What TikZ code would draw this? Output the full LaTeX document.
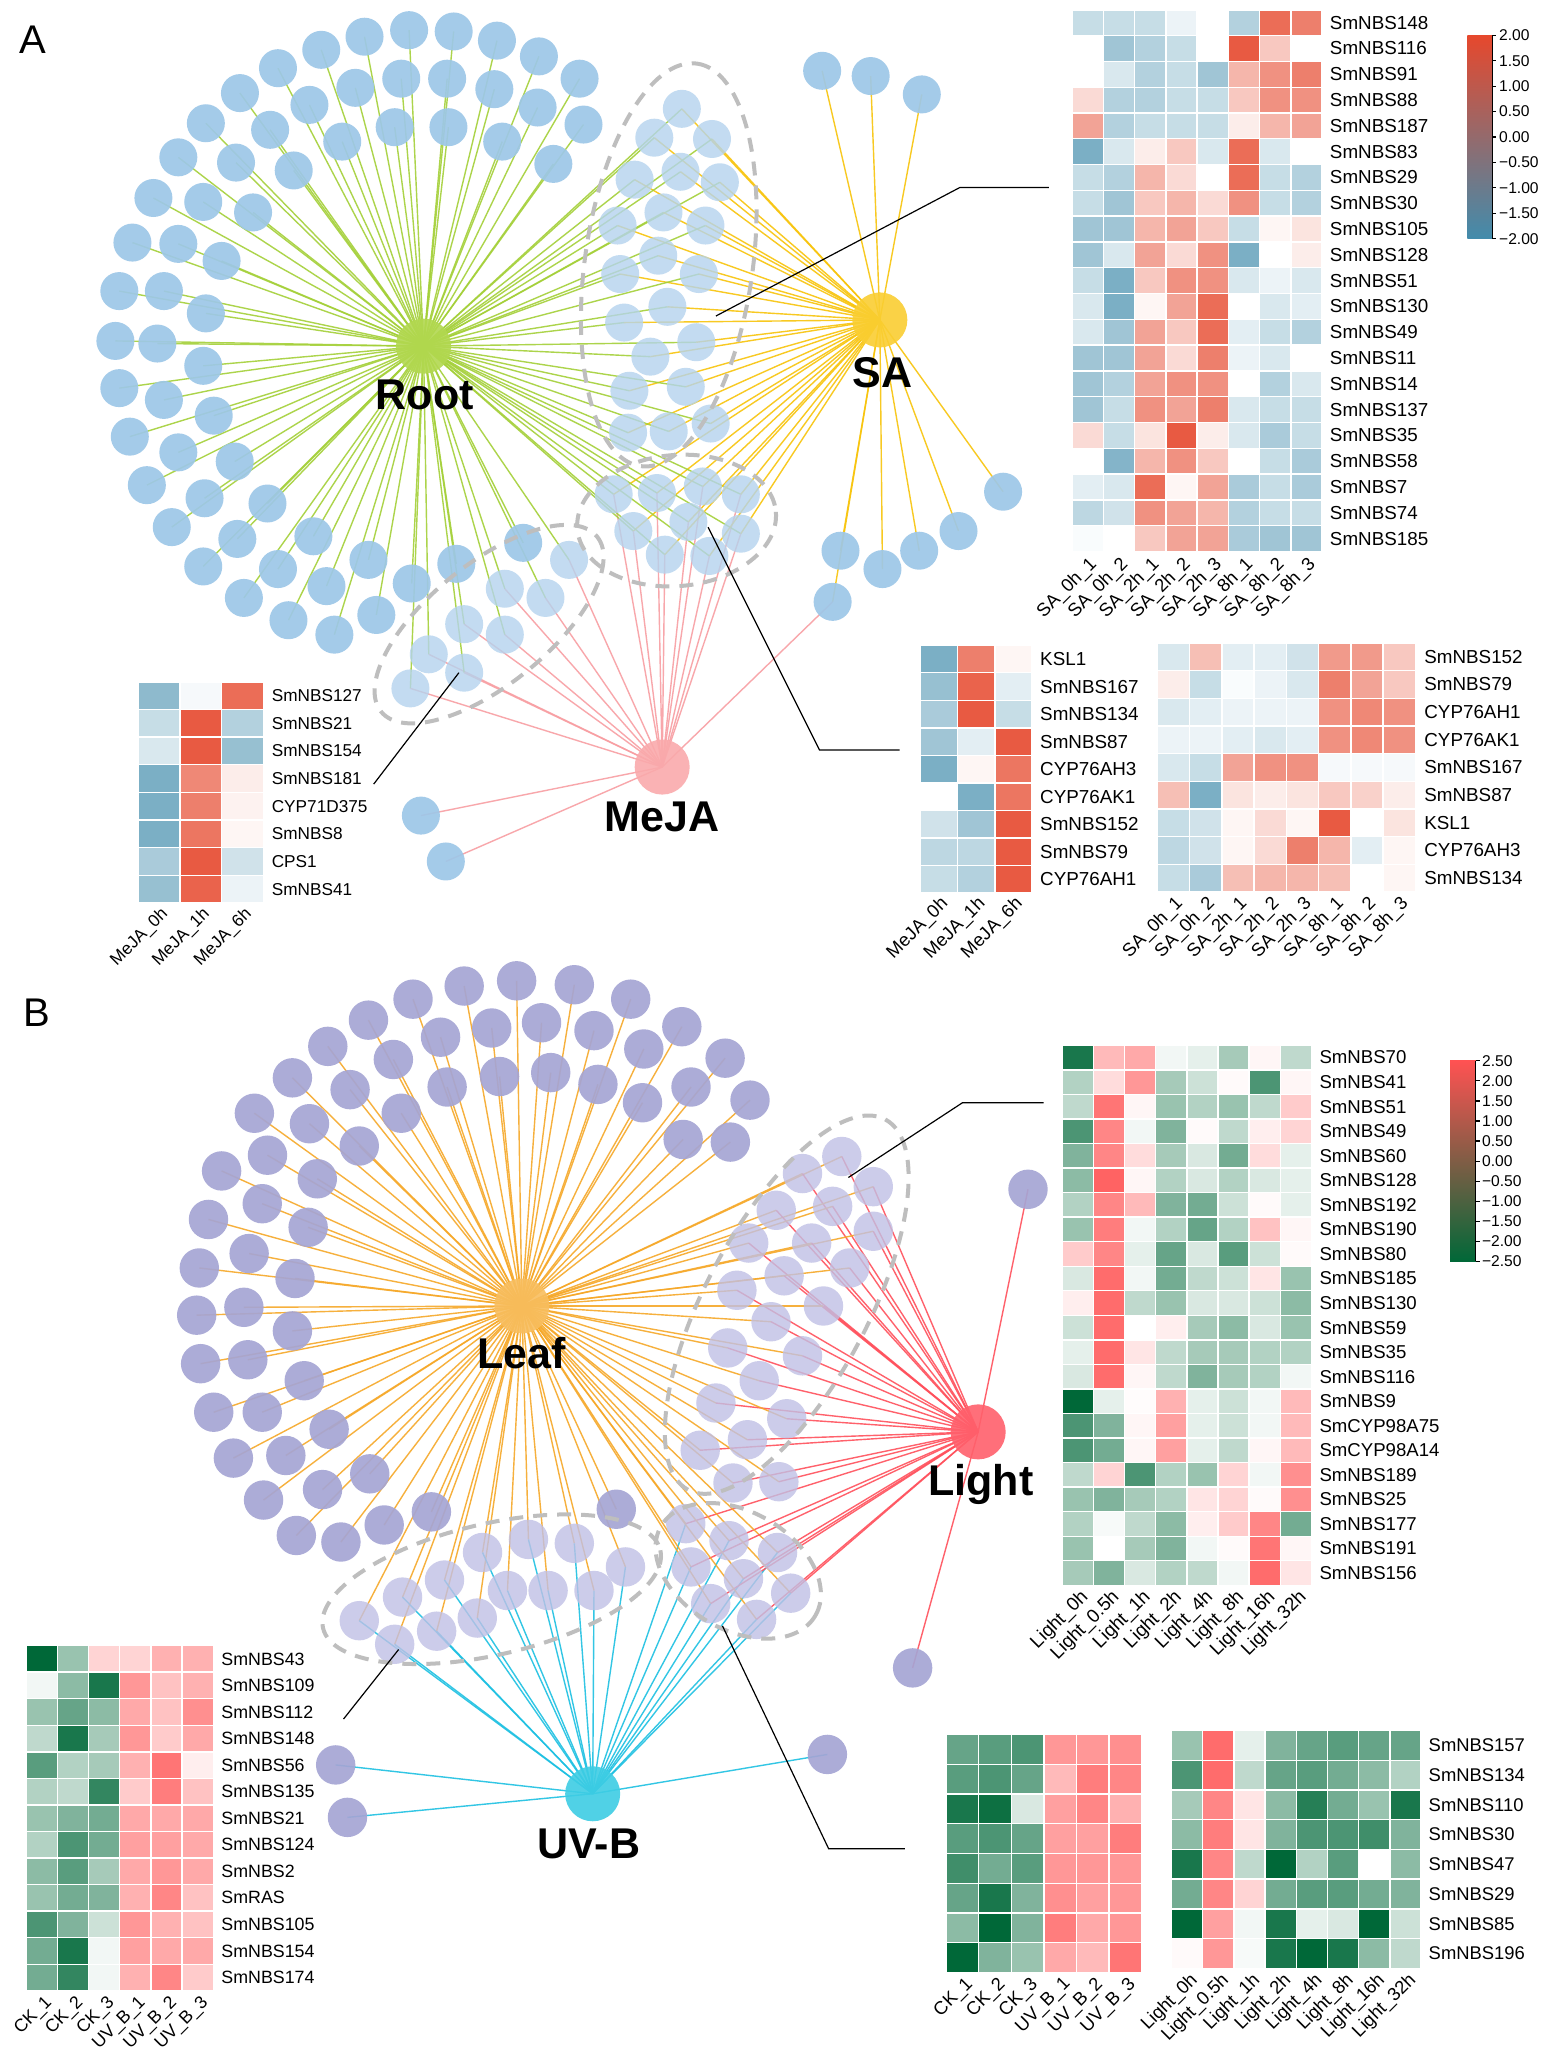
\documentclass[tikz,border=0pt]{standalone}
\usepackage{fontspec}
\setmainfont{Liberation Sans}
\pgfdeclarelayer{background}
\pgfsetlayers{background,main}
\definecolor{blueA}{RGB}{157,199,232}
\definecolor{blueAl}{RGB}{180,211,238}
\definecolor{purB}{RGB}{165,165,212}
\definecolor{purBl}{RGB}{192,192,229}
\definecolor{rootC}{RGB}{178,216,80}
\definecolor{rootE}{RGB}{164,208,56}
\definecolor{saC}{RGB}{250,206,50}
\definecolor{saE}{RGB}{248,196,10}
\definecolor{mejaC}{RGB}{250,170,172}
\definecolor{mejaE}{RGB}{248,158,162}
\definecolor{leafC}{RGB}{248,190,95}
\definecolor{leafE}{RGB}{246,168,40}
\definecolor{lightC}{RGB}{255,96,108}
\definecolor{lightE}{RGB}{255,80,92}
\definecolor{uvbC}{RGB}{62,205,228}
\definecolor{uvbE}{RGB}{28,192,226}
\definecolor{lowA}{RGB}{66,140,172}
\definecolor{highA}{RGB}{230,72,45}
\definecolor{lowB}{RGB}{0,104,56}
\definecolor{highB}{RGB}{255,82,82}
\definecolor{grpC}{RGB}{190,190,190}
% heat map: x0, y0, cell w, cell h, low, high, rows
\newcommand{\hmap}[7]{%
\foreach \rw [count=\i] in {#7}{
  \foreach \v [count=\j] in \rw{
    \pgfmathsetmacro\pct{min(100,abs(\v)*10)}
    \ifdim\v pt<0pt \def\hc{#5}\else\def\hc{#6}\fi
    \fill[fill=\hc!\pct!white,draw=white,line width=0.7pt]
      ({#1+(\j-1)*#3},{#2+(\i-1)*#4}) rectangle ++(#3,#4);
  }
}}
\begin{document}
\begin{tikzpicture}[x=0.6554pt,y=-0.6554pt,
  nodeA/.style={circle,inner sep=0pt,minimum size=19pt,fill=blueA,fill opacity=0.92},
  nodeAl/.style={nodeA,fill=blueAl,fill opacity=0.8},
  nodeB/.style={circle,inner sep=0pt,minimum size=19.7pt,fill=purB,fill opacity=0.92},
  nodeBl/.style={nodeB,fill=purBl,fill opacity=0.8},
  hub/.style={circle,inner sep=0pt,minimum size=27.5pt,fill opacity=0.9},
  hublab/.style={inner sep=0pt,font=\fontsize{21.5}{24}\selectfont\bfseries},
  wire/.style={line width=0.7pt,draw opacity=0.9},
  grp/.style={draw=grpC,line width=2pt,dash pattern=on 7pt off 5pt},
  lead/.style={line width=0.6pt},
  rowlab/.style={inner sep=0pt,anchor=west,font=\fontsize{#1}{#1}\selectfont},
  collab/.style={inner sep=0pt,anchor=east,rotate=45,font=\fontsize{#1}{#1}\selectfont},
  cbar/.style={inner sep=0pt,anchor=west,font=\fontsize{7.8}{8}\selectfont}]
\begin{pgfonlayer}{background}
\fill[white] (0,0) rectangle (1184,1568);
\end{pgfonlayer}
\useasboundingbox (0,0) rectangle (1184,1568);

\node[font=\fontsize{20}{20}\selectfont] (pA) at (25,30) {A};
\node[font=\fontsize{20}{20}\selectfont] (pB) at (28,772) {B};

%%%%% panel A network
\node[hub,fill=rootC] (root) at (323,264) {};
\node[hub,fill=saC] (sa) at (671,244) {};
\node[hub,fill=mejaC] (meja) at (505,585) {};

% root ring
\foreach \p [count=\k] in {(278,28),(312,23),(346,24),(379,31),(411,43),(442,60),(245,38),(212,52),(183,71),(157,94),(136,120),(117,151),(101,185),(91,222),(88,260),(91,296),(99,333),(112,370),(131,402),(155,432),(186,456),(220,473),(255,484),
  (306,60),(341,60),(377,68),(410,82),(445,95),(271,67),(236,80),(206,99),(180,124),(155,154),(136,186),(125,222),(120,262),(125,305),(136,345),(156,380),(181,411),(212,434),(249,447),(287,469),
  (301,97),(342,97),(383,108),(422,125),(261,108),(224,130),(193,162),(169,199),(157,239),(155,279),(163,317),(179,352),(204,384),(239,409),(281,427),(314,445),(348,430),(399,414)}
  \node[nodeA] (ra\k) at \p {};
% SA group
\foreach \p [count=\k] in {(520,83),(499,105),(543,106),(484,137),(519,131),(549,139),(471,172),(506,162),(538,172),(502,195),(473,209),(533,209),(509,234),(476,246),(531,261),(496,272),(480,298),(523,295),(479,330),(510,329),(542,323)}
  \node[nodeAl] (sg\k) at \p {};
% SA and MeJA group
\foreach \p [count=\k] in {(468,377),(501,376),(536,371),(565,377),(483,405),(525,398),(565,407),(507,423),(541,424)}
  \node[nodeAl] (dg\k) at \p {};
% MeJA group
\foreach \p [count=\k] in {(434,427),(416,456),(385,449),(354,476),(385,484),(327,499),(354,513),(313,525)}
  \node[nodeAl] (mg\k) at \p {};
\foreach \p [count=\k] in {(627,54),(664,58),(703,72),(765,375),(731,405),(701,420),(673,434),(641,420),(635,459)}
  \node[nodeA] (so\k) at \p {};
\foreach \p [count=\k] in {(321,622),(340,657)}
  \node[nodeA] (mo\k) at \p {};

\begin{pgfonlayer}{background}
\foreach \k in {1,...,61} \draw[wire,rootE] (root.center) -- (ra\k.center);
\foreach \k in {1,...,21}{
  \draw[wire,rootE] (root.center) -- (sg\k.center);
  \draw[wire,saE] (sa.center) -- (sg\k.center);}
\foreach \k in {1,...,9}{
  \draw[wire,rootE] (root.center) -- (dg\k.center);
  \draw[wire,saE] (sa.center) -- (dg\k.center);
  \draw[wire,mejaE] (meja.center) -- (dg\k.center);
  \draw[wire,saE] (sa.center) -- (so\k.center);}
\foreach \k in {1,...,8}{
  \draw[wire,rootE] (root.center) -- (mg\k.center);
  \draw[wire,mejaE] (meja.center) -- (mg\k.center);}
\foreach \k in {1,2} \draw[wire,mejaE] (meja.center) -- (mo\k.center);
\draw[wire,mejaE] (meja.center) -- (so9.center);
\end{pgfonlayer}

\draw[grp,rotate around={82:(510,202)}] (510,202) ellipse [x radius=155,y radius=64];
\draw[grp,rotate around={5:(516,397)}] (516,397) ellipse [x radius=76,y radius=50];
\draw[grp,rotate around={39:(373,476)}] (373,476) ellipse [x radius=106,y radius=46];

\node[hublab] (rootlab) at (324,301) {Root};
\node[hublab] (salab) at (673,284) {SA};
\node[hublab] (mejalab) at (505,623) {MeJA};

% leader lines A
\coordinate (la1) at (546,241); \coordinate (la2) at (732,143); \coordinate (la3) at (800,143);
\draw[lead] (la1) -- (la2) -- (la3);
\coordinate (lb1) at (540,402); \coordinate (lb2) at (625,572); \coordinate (lb3) at (686,572);
\draw[lead] (lb1) -- (lb2) -- (lb3);
\coordinate (lc1) at (350,513); \coordinate (lc2) at (285,598);
\draw[lead] (lc1) -- (lc2);

%%%%% panel A heat maps
\hmap{817.6}{7.5}{23.84}{19.67}{lowA}{highA}{{-3,-3,-3,-1,0,-4,8,7},{0,-5,-4,-3,0,9,3,0},{0,-2,-4,-3,-5,4,6,7},{2,-4,-4,-3,-3,3,6,6},{5,-4,-3,-3,-3,1,4,5},{-7,-2,1,3,-2,8,-2,0},{-3,-4,4,2,0,8,-3,-4},{-3,-5,3,4,2,6,-3,-4},{-5,-5,4,5,3,-3,0.5,1.5},{-5,-2,5,2,6,-7,0,1},{-3,-7,3,6,6,-2,-1,-2},{-2,-7,0.5,5,8,0,-2,-1.5},{-2,-5,5,3,8,-1.5,-3,-4},{-5,-5,5,2,7,-1,-2,0},{-5,-4,5,6,6,0,-4,-2},{-5,-3,6,5,7,-2,-3,-3},{2,-3,1.5,9,1,-2,-4.5,-3},{0,-6.5,4,6,3,0,-3,-4.5},{-1.5,-2,8,0.5,5,-4.5,-3,-4.5},{-3.5,-2.5,6,5,4,-4,-3,-3},{-0.3,0,3,5,5,-4.5,-5,-5}}
\foreach \n [count=\i] in {SmNBS148,SmNBS116,SmNBS91,SmNBS88,SmNBS187,SmNBS83,SmNBS29,SmNBS30,SmNBS105,SmNBS128,SmNBS51,SmNBS130,SmNBS49,SmNBS11,SmNBS14,SmNBS137,SmNBS35,SmNBS58,SmNBS7,SmNBS74,SmNBS185}
  \node[rowlab=9.4] (saR\i) at (1014,{7.5+(\i-0.5)*19.67}) {\n};
\foreach \n [count=\j] in {SA\_0h\_1,SA\_0h\_2,SA\_2h\_1,SA\_2h\_2,SA\_2h\_3,SA\_8h\_1,SA\_8h\_2,SA\_8h\_3}
  \node[collab=9.2] (saC\j) at ({817.6+(\j-0.5)*23.84+5},428) {\n};
% colour bar A
\shade[top color=highA,middle color=white,bottom color=lowA] (1119,27) rectangle (1138,182);
\draw[line width=0.6pt] (1138,27) -- (1138,182);
\foreach \t [count=\k from 0] in {2.00,1.50,1.00,0.50,0.00,−0.50,−1.00,−1.50,−2.00}{
  \draw[line width=0.6pt] (1138,{27+\k*19.375}) -- ++(3,0);
  \node[cbar] (cbA\k) at (1143,{27+\k*19.375}) {\t};
}

\hmap{105.2}{520}{31.93}{21.08}{lowA}{highA}{{-6,-0.5,8},{-3,9,-4},{-2,9,-5.5},{-7,6.5,1},{-7,7,0.7},{-7,7.5,0.5},{-4.5,9,-2.5},{-5.5,8.5,-1}}
\foreach \n [count=\i] in {SmNBS127,SmNBS21,SmNBS154,SmNBS181,CYP71D375,SmNBS8,CPS1,SmNBS41}
  \node[rowlab=8.6] (mjR\i) at (207,{520+(\i-0.5)*21.08}) {\n};
\foreach \n [count=\j] in {MeJA\_0h,MeJA\_1h,MeJA\_6h}
  \node[collab=8.6] (mjC\j) at ({105.2+(\j-0.5)*31.93+5},695) {\n};

\hmap{701.9}{492.1}{28.4}{20.99}{lowA}{highA}{{-7,7,0.5},{-5.5,8.5,-1.5},{-4.5,9,-3},{-5,-1.5,9},{-7,0.5,7.5},{0,-7,7.5},{-2.5,-5,9},{-3.5,-3.5,9},{-3,-4,9}}
\foreach \n [count=\i] in {KSL1,SmNBS167,SmNBS134,SmNBS87,CYP76AH3,CYP76AK1,SmNBS152,SmNBS79,CYP76AH1}
  \node[rowlab=9.4] (mmR\i) at (793,{492.1+(\i-0.5)*20.99}) {\n};
\foreach \n [count=\j] in {MeJA\_0h,MeJA\_1h,MeJA\_6h}
  \node[collab=9.2] (mmC\j) at ({701.9+(\j-0.5)*28.4+5},687) {\n};

\hmap{882.7}{490.3}{24.59}{21.11}{lowA}{highA}{{-2,3.5,-1.5,-1.5,-2.5,5.5,5.5,3},{1,-3,-0.3,-1,-2,7,5,3},{-2,-1.5,-1,-1,-1,6,6.5,6},{-1,-1,-1.5,-2,-1.5,6,6.5,6},{-2,-3,5,6,6,-0.5,-0.5,-0.5},{3.5,-7,1.5,1,1.5,3,2.5,1},{-3,-2.5,0.5,2,0.5,9,0,1.5},{-3.5,-2.5,0.5,2,7,4,-1.5,0.5},{-3,-4.5,3.5,4,4,3.5,0,0.5}}
\foreach \n [count=\i] in {SmNBS152,SmNBS79,CYP76AH1,CYP76AK1,SmNBS167,SmNBS87,KSL1,CYP76AH3,SmNBS134}
  \node[rowlab=9.4] (smR\i) at (1086,{490.3+(\i-0.5)*21.11}) {\n};
\foreach \n [count=\j] in {SA\_0h\_1,SA\_0h\_2,SA\_2h\_1,SA\_2h\_2,SA\_2h\_3,SA\_8h\_1,SA\_8h\_2,SA\_8h\_3}
  \node[collab=9.2] (smC\j) at ({882.7+(\j-0.5)*24.59+5},687) {\n};

%%%%% panel B network
\node[hub,fill=leafC] (leaf) at (398,996) {};
\node[hub,fill=lightC] (light) at (746,1092) {};
\node[hub,fill=uvbC] (uvb) at (452,1368) {};

% leaf ring
\foreach \p [count=\k] in {(394,748),(438,751),(481,762),(520,783),(553,807),(572,839),(354,752),(315,762),(281,778),(250,798),(223,822),(194,849),(169,893),(159,930),(152,967),(150,1003),(153,1040),(163,1077),(178,1112),(201,1144),(226,1171),(260,1176),(293,1163),(329,1153),
  (413,780),(375,784),(336,791),(300,808),(267,831),(236,857),(204,881),(200,918),(190,956),(186,997),(189,1037),(200,1077),(218,1110),(246,1136),(453,786),(491,800),(527,829),(557,871),
  (381,821),(420,818),(456,827),(490,841),(521,869),(341,829),(306,849),(274,874),(242,899),(235,936),(225,975),(223,1015),(232,1053),(251,1090),(282,1124),(470,1151)}
  \node[nodeB] (lr\k) at \p {};
% Light group
\foreach \p [count=\k] in {(642,882),(612,895),(666,905),(592,923),(635,920),(666,939),(571,948),(619,948),(648,967),(598,973),(562,984),(628,996),(588,1008),(555,1028),(612,1034),(579,1053),(546,1070),(600,1082),(570,1098),(534,1106),(559,1131),(594,1130)}
  \node[nodeBl] (lgt\k) at \p {};
% Light and UV-B group
\foreach \p [count=\k] in {(523,1162),(556,1175),(593,1184),(527,1195),(567,1204),(603,1215),(542,1223),(577,1235)}
  \node[nodeBl] (brg\k) at \p {};
% UV-B group
\foreach \p [count=\k] in {(274,1236),(301,1254),(307,1218),(333,1244),(339,1205),(364,1234),(368,1184),(387,1213),(403,1174),(418,1213),(438,1177),(453,1213),(477,1195)}
  \node[nodeBl] (blg\k) at \p {};
\foreach \p [count=\k] in {(256,1346),(265,1386),(631,1338)}
  \node[nodeB] (uo\k) at \p {};
\foreach \p [count=\k] in {(784,907),(696,1272)}
  \node[nodeB] (lo\k) at \p {};

\begin{pgfonlayer}{background}
\foreach \k in {1,...,58} \draw[wire,leafE] (leaf.center) -- (lr\k.center);
\foreach \k in {1,...,22}{
  \draw[wire,leafE] (leaf.center) -- (lgt\k.center);
  \draw[wire,lightE] (light.center) -- (lgt\k.center);}
\foreach \k in {1,...,8}{
  \draw[wire,leafE] (leaf.center) -- (brg\k.center);
  \draw[wire,lightE] (light.center) -- (brg\k.center);
  \draw[wire,uvbE] (uvb.center) -- (brg\k.center);}
\foreach \k in {1,...,13}{
  \draw[wire,leafE] (leaf.center) -- (blg\k.center);
  \draw[wire,uvbE] (uvb.center) -- (blg\k.center);}
\foreach \k in {1,2,3} \draw[wire,uvbE] (uvb.center) -- (uo\k.center);
\foreach \k in {1,2} \draw[wire,lightE] (light.center) -- (lo\k.center);
\end{pgfonlayer}

\draw[grp,rotate around={62:(600,995)}] (600,995) ellipse [x radius=160,y radius=62];
\draw[grp,rotate around={-30:(563,1198)}] (563,1198) ellipse [x radius=68,y radius=45];
\draw[grp,rotate around={13:(375,1212)}] (375,1212) ellipse [x radius=132,y radius=50];

\node[hublab] (leaflab) at (398,1032) {Leaf};
\node[hublab] (lightlab) at (748,1132) {Light};
\node[hublab] (uvblab) at (449,1406) {UV-B};

% leader lines B
\coordinate (ld1) at (647,898); \coordinate (ld2) at (734,841); \coordinate (ld3) at (796,841);
\draw[lead] (ld1) -- (ld2) -- (ld3);
\coordinate (le1) at (304,1258); \coordinate (le2) at (262,1311);
\draw[lead] (le1) -- (le2);
\coordinate (lf1) at (551,1240); \coordinate (lf2) at (632,1410); \coordinate (lf3) at (690,1410);
\draw[lead] (lf1) -- (lf2) -- (lf3);

%%%%% panel B heat maps
\hmap{810}{797.2}{23.78}{18.72}{lowB}{highB}{{-9,4,5,-0.5,-1,-3.5,0.5,-2.5},{-3,2,6,-3.5,-2,0.3,-7,0.5},{-2.5,8,0.5,-4,-3,-4,-2.5,3},{-7,7,-0.5,-5,0.3,-2.5,1,2.5},{-5,7,2,-3.5,-1.5,-5.5,2,-1},{-4.5,9,0.5,-3,-1.5,-3,-1.5,-1},{-3,7,4,-5,-5.5,-2,0.3,-1},{-4,7.5,-0.5,-3,-6,-3,3.5,0.5},{3,7,-1,-6,-1.5,-6.5,-2,0.3},{-1.5,8.5,-0.5,-5.5,-2.5,-2,1.5,-4},{1,8.5,-2.5,-4,-1.5,-1.5,-2,-4.5},{-2,8.5,0,1,-3.5,-4.5,-1.5,-4},{-1,8.5,1.5,-2.5,-3.5,-3.5,-3,-3},{-1.5,8.5,0.5,-2.5,-5,-3.5,-3,-0.5},{-10,-1,0.2,4.5,-1,-2,-0.5,4},{-7,-5,0.5,5.5,-1,-2,-0.5,4},{-7,-5.5,0.5,5.5,-1,-2.5,0.5,4},{-2.5,2.5,-7,-3,-4,2.5,-0.5,6.5},{-4,-5,-3.5,-3,1.5,2.5,0.3,6.5},{-3,-0.3,-2.5,-4.5,1,3,7,-5.5},{-4,0,-3.5,-5,-0.5,0.3,8,0.5},{-3.5,-5,-1.5,-3,-2.5,-0.5,8.5,1.5}}
\foreach \n [count=\i] in {SmNBS70,SmNBS41,SmNBS51,SmNBS49,SmNBS60,SmNBS128,SmNBS192,SmNBS190,SmNBS80,SmNBS185,SmNBS130,SmNBS59,SmNBS35,SmNBS116,SmNBS9,SmCYP98A75,SmCYP98A14,SmNBS189,SmNBS25,SmNBS177,SmNBS191,SmNBS156}
  \node[rowlab=9.3] (lhR\i) at (1006,{797.2+(\i-0.5)*18.72}) {\n};
\foreach \n [count=\j] in {Light\_0h,Light\_0.5h,Light\_1h,Light\_2h,Light\_4h,Light\_8h,Light\_16h,Light\_32h}
  \node[collab=9.4] (lhC\j) at ({810+(\j-0.5)*23.78+6},1216) {\n};
% colour bar B
\shade[top color=highB,middle color=white,bottom color=lowB] (1106,809) rectangle (1125.5,962);
\draw[line width=0.6pt] (1125.5,809) -- (1125.5,962);
\foreach \t [count=\k from 0] in {2.50,2.00,1.50,1.00,0.50,0.00,−0.50,−1.00,−1.50,−2.00,−2.50}{
  \draw[line width=0.6pt] (1125.5,{809+\k*15.3}) -- ++(3,0);
  \node[cbar] (cbB\k) at (1130,{809+\k*15.3}) {\t};
}

\hmap{19.8}{1255}{23.83}{20.25}{lowB}{highB}{{-10,-4,2.5,2.5,4.5,4.5},{-0.5,-4.5,-9,6,3.5,4.5},{-4,-6,-4.5,5,3.5,6.5},{-2.5,-9,-3.5,6,3,5},{-6.5,-3,-3.5,4.5,8,1},{-3,-2.5,-8,3,7.5,3.5},{-4,-5,-5.5,5,5,5},{-3,-7,-5.5,5.5,5.5,5},{-4.5,-6.5,-3.5,5,6,5},{-4,-5.5,-5,4.5,7,3.5},{-7,-5,-2,6,4.5,3.5},{-5.5,-9,-0.5,5.5,5,5},{-5.5,-8,-0.5,4.5,7,3}}
\foreach \n [count=\i] in {SmNBS43,SmNBS109,SmNBS112,SmNBS148,SmNBS56,SmNBS135,SmNBS21,SmNBS124,SmNBS2,SmRAS,SmNBS105,SmNBS154,SmNBS174}
  \node[rowlab=8.9] (uvR\i) at (168.6,{1255+(\i-0.5)*20.25}) {\n};
\foreach \n [count=\j] in {CK\_1,CK\_2,CK\_3,UV\_B\_1,UV\_B\_2,UV\_B\_3}
  \node[collab=8.9] (uvC\j) at ({19.8+(\j-0.5)*23.83+6},1525) {\n};

\hmap{721.6}{1322.8}{24.82}{22.68}{lowB}{highB}{{-6,-6.5,-7,6,6,6.5},{-6.5,-7,-6,4,7.5,7},{-9,-9.5,-1.5,5.5,7,4.5},{-6.5,-7,-6,5.5,5.5,7.5},{-7.5,-5.5,-6.5,6,6,6},{-6,-9,-5,6.5,5.5,6},{-4.5,-10,-5,7.5,5,6},{-10,-5,-4,5,4,8}}
\foreach \n [count=\j] in {CK\_1,CK\_2,CK\_3,UV\_B\_1,UV\_B\_2,UV\_B\_3}
  \node[collab=9.2] (ubC\j) at ({721.6+(\j-0.5)*24.82+6},1511) {\n};

\hmap{893.5}{1319.8}{23.79}{22.66}{lowB}{highB}{{-4,8.5,-1,-5,-6,-6.5,-6,-6},{-7,8.5,-2.5,-6,-6.5,-5.5,-4.5,-3},{-3.5,7,1.5,-4.5,-8.5,-5.5,-4,-9},{-4.5,7.5,1.5,-5,-7,-7,-7.5,-5},{-9,7,-2.5,-10,-3,-6.5,0,-4.5},{-5.5,7,2.5,-5.5,-6.5,-6.5,-5.5,-5},{-10,5.5,-0.5,-9,-1,-1.5,-10,-2},{0.3,6,-0.3,-9,-10,-9,-4.5,-2.5}}
\foreach \n [count=\i] in {SmNBS157,SmNBS134,SmNBS110,SmNBS30,SmNBS47,SmNBS29,SmNBS85,SmNBS196}
  \node[rowlab=9.2] (lbR\i) at (1089.3,{1319.8+(\i-0.5)*22.66}) {\n};
\foreach \n [count=\j] in {Light\_0h,Light\_0.5h,Light\_1h,Light\_2h,Light\_4h,Light\_8h,Light\_16h,Light\_32h}
  \node[collab=9.2] (lbC\j) at ({893.5+(\j-0.5)*23.79+6},1508) {\n};
\end{tikzpicture}
\end{document}
